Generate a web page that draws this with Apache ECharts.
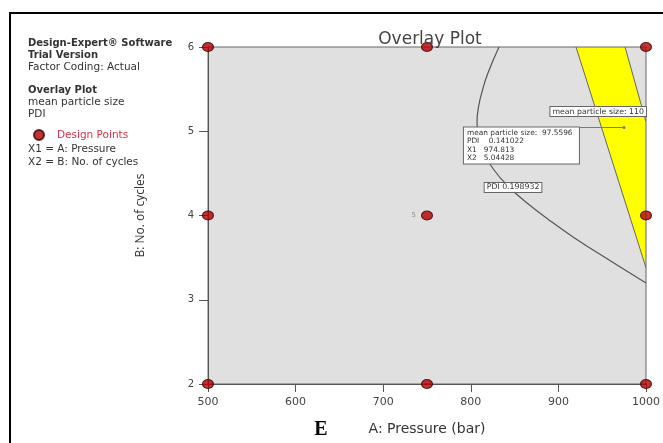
<!DOCTYPE html>
<html>
<head>
<meta charset="utf-8">
<script src="https://cdn.jsdelivr.net/npm/echarts@6/dist/echarts.min.js"></script>
<style>html,body{margin:0;padding:0;background:#fff;}#c{width:663px;height:443px;}</style>
</head>
<body>
<div id="c"></div>
<script>
// ---- data ----
const designX = [500, 500, 500, 750, 750, 750, 1000, 1000, 1000];
const designY = [2, 4, 6, 2, 4, 6, 2, 4, 6];
const replicates = [1, 1, 1, 1, 5, 1, 1, 1, 1];

// PDI = 0.198932 contour
const pdiCurveX = [832.2, 819.6, 813.4, 808.8, 807.1, 808.8, 815.1, 826.5, 843.6, 864.2, 889.3, 916.7, 945.2, 976.1, 1000];
const pdiCurveY = [6, 5.691, 5.490, 5.288, 5.110, 4.920, 4.742, 4.540, 4.338, 4.148, 3.947, 3.745, 3.555, 3.353, 3.199];

// overlay (feasible) region, yellow
const yellowX = [920.1, 976.1, 1000, 1000];
const yellowY = [6, 6, 5.11, 3.38];

// flag point
const flagX = 974.813, flagY = 5.04428;
const flagLines = ['mean particle size:  97.5596', 'PDI    0.141022', 'X1   974.813', 'X2   5.04428'];

// contour labels
const mpsLabel = { text: 'mean particle size: 110', x: 1000, y: 5.234 };
const pdiLabel = { text: 'PDI 0.198932', x: 848.2, y: 4.333 };

const xTicks = { min: 500, max: 1000, interval: 100 };
const yTicks = { min: 2, max: 6, interval: 1 };

const sideText = [
  { t: 'Design-Expert® Software', bold: true, y: 43 },
  { t: 'Trial Version', bold: true, y: 55 },
  { t: 'Factor Coding: Actual', bold: false, y: 67 },
  { t: 'Overlay Plot', bold: true, y: 90 },
  { t: 'mean particle size', bold: false, y: 102 },
  { t: 'PDI', bold: false, y: 114 },
  { t: 'X1 = A: Pressure', bold: false, y: 149 },
  { t: 'X2 = B: No. of cycles', bold: false, y: 162 }
];

const FONT = '"DejaVu Sans", sans-serif';
const chart = echarts.init(document.getElementById('c'));

const option = {
  animation: false,
  backgroundColor: '#fff',
  title: {
    text: 'Overlay Plot', left: 425, top: 26, textAlign: 'center',
    textStyle: { fontFamily: FONT, fontSize: 17, fontWeight: 'normal', color: '#444' }
  },
  legend: {
    data: ['Design Points'], left: 28, top: 124, itemWidth: 12, itemHeight: 10,
    textStyle: { fontFamily: FONT, fontSize: 10.5, color: '#d9314a', padding: [0, 0, 0, 7] }
  },
  grid: {
    left: 208, top: 47, right: 17, bottom: 59, show: true,
    backgroundColor: '#e0e0e0', borderColor: '#666', borderWidth: 1
  },
  xAxis: {
    type: 'value', min: xTicks.min, max: xTicks.max, interval: xTicks.interval,
    name: 'A: Pressure (bar)', nameLocation: 'middle', nameGap: 38,
    nameTextStyle: { fontFamily: FONT, fontSize: 14, color: '#333' },
    axisLine: { lineStyle: { color: '#555' } },
    axisTick: { inside: false, length: 8, lineStyle: { color: '#555' } },
    axisLabel: { fontFamily: FONT, fontSize: 11, color: '#444', margin: 13, formatter: v => String(v) },
    splitLine: { show: false }
  },
  yAxis: {
    type: 'value', min: yTicks.min, max: yTicks.max, interval: yTicks.interval,
    name: 'B: No. of cycles', nameLocation: 'middle', nameGap: 61, nameRotate: 90,
    nameTextStyle: { fontFamily: '"Open Sans", sans-serif', fontSize: 12, color: '#333' },
    axisLine: { lineStyle: { color: '#555' } },
    axisTick: { inside: false, length: 9, lineStyle: { color: '#555' } },
    axisLabel: { fontFamily: FONT, fontSize: 10, color: '#444', margin: 14 },
    splitLine: { show: false }
  },
  series: [
    {
      name: 'region', type: 'custom', z: 1, clip: true,
      data: [0],
      renderItem: function (params, api) {
        const pts = yellowX.map((x, i) => api.coord([x, yellowY[i]]));
        return { type: 'polygon', shape: { points: pts }, style: { fill: '#ffff00', stroke: '#666', lineWidth: 1 } };
      }
    },
    {
      name: 'PDI', type: 'line', z: 2, smooth: 0.5, symbol: 'none', clip: true,
      data: pdiCurveX.map((x, i) => [x, pdiCurveY[i]]),
      lineStyle: { color: '#555', width: 1.2 }
    },
    {
      name: 'Design Points', type: 'scatter', z: 5, symbol: 'circle', symbolSize: [11, 9],
      clip: false,
      itemStyle: { color: '#b00000', borderColor: '#3a0000', borderWidth: 1 },
      data: designX.map((x, i) => ({
        value: [x, designY[i]],
        label: {
          show: replicates[i] > 1, formatter: String(replicates[i]), position: 'left',
          distance: 5, fontSize: 7, color: '#777', fontFamily: FONT
        }
      }))
    }
  ]
};
chart.setOption(option);

function boxText(id, txt, x, y, align) {
  return {
    id: id, type: 'text', x: x, y: y, z: 20,
    style: {
      text: txt, font: '7.8px "DejaVu Sans", sans-serif', fill: '#333',
      align: align, verticalAlign: 'middle',
      backgroundColor: '#fff', borderColor: '#666', borderWidth: 1, padding: [1, 2, 0, 2]
    }
  };
}

const g = [];
// frame
g.push({ type: 'polyline', shape: { points: [[10, 443], [10, 13], [663, 13]] }, style: { stroke: '#000', lineWidth: 2, fill: null }, z: 30 });
// side panel text
sideText.forEach(s => g.push({
  type: 'text', x: 28, y: s.y, style: {
    text: s.t, font: (s.bold ? 'bold 10px ' : '10.5px ') + FONT, fill: '#333', verticalAlign: 'middle'
  }
}));
// E label
g.push({ type: 'text', x: 321, y: 430, style: { text: 'E', font: 'bold 20px "Liberation Serif", serif', fill: '#000', align: 'center', verticalAlign: 'middle' } });

// contour labels
const pm = chart.convertToPixel({ gridIndex: 0 }, [mpsLabel.x, mpsLabel.y]);
g.push(boxText('mps', mpsLabel.text, pm[0], pm[1], 'right'));
const pp = chart.convertToPixel({ gridIndex: 0 }, [pdiLabel.x, pdiLabel.y]);
g.push(boxText('pdi', pdiLabel.text, pp[0], pp[1], 'center'));

// flag
const pf = chart.convertToPixel({ gridIndex: 0 }, [flagX, flagY]);
g.push({ type: 'line', shape: { x1: pf[0] - 45, y1: pf[1], x2: pf[0], y2: pf[1] }, style: { stroke: '#777', lineWidth: 1 }, z: 19 });
g.push({ type: 'circle', shape: { cx: pf[0], cy: pf[1], r: 1.5 }, style: { fill: '#777' }, z: 19 });
g.push({
  type: 'text', x: pf[0] - 160, y: pf[1], z: 20,
  style: {
    text: flagLines.join('\n'), font: '7.4px "DejaVu Sans", sans-serif', fill: '#333', lineHeight: 8.5,
    backgroundColor: '#fff', borderColor: '#666', borderWidth: 1, padding: [1, 2, 1, 3],
    width: 110, overflow: 'none'
  }
});
chart.setOption({ graphic: g });
</script>
</body>
</html>
